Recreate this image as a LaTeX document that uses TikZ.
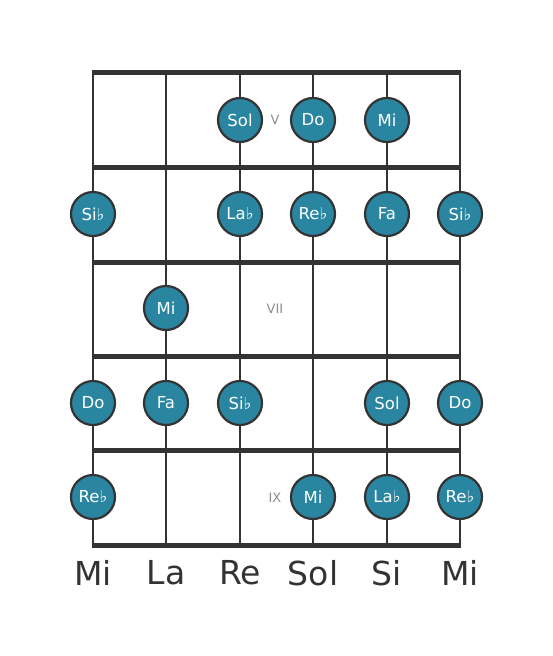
\documentclass[tikz,border=0pt]{standalone}
\usepackage{fontspec}
\setmainfont{DejaVu Sans}
\begin{document}
\begin{tikzpicture}[x=1pt,y=-1pt,
  fret/.style={line width=5pt,draw=black!80},
  string/.style={line width=2.7pt,draw=black!80},
  note/.style={circle,minimum size=44pt,inner sep=0pt,fill=notefill,draw=black!80,line width=2.2pt,text=white,font=\fontsize{16.5}{16.5}\selectfont},
  fretnum/.style={text=black!45,font=\fontsize{13}{13}\selectfont},
  strname/.style={text=black!80,font=\fontsize{33}{33}\selectfont}]
\definecolor{notefill}{HTML}{2A86A0}
\useasboundingbox (0,0) rectangle (553,656);
% strings
\foreach \x/\n in {93/s1,166/s2,240/s3,313/s4,387/s5,460/s6} {
  \coordinate (\n t) at (\x,72);
  \coordinate (\n b) at (\x,545);
  \draw[string] (\n t) -- (\n b);
}
% frets
\foreach \y/\n in {72/f0,167/f1,262/f2,356/f3,450/f4,545/f5} {
  \coordinate (\n l) at (93,\y);
  \coordinate (\n r) at (460,\y);
  \draw[fret] ([xshift=-1.3pt]\n l) -- ([xshift=1.3pt]\n r);
}
% fret numbers
\node[fretnum] (v) at (275,120) {V};
\node[fretnum] (vii) at (275,309) {VII};
\node[fretnum] (ix) at (275,498) {IX};
% notes
\node[note] (n1) at (240,120) {Sol};
\node[note] (n2) at (313,120) {Do};
\node[note] (n3) at (387,120) {Mi};
\node[note] (n4) at (93,214) {Si♭};
\node[note] (n5) at (240,214) {La♭};
\node[note] (n6) at (313,214) {Re♭};
\node[note] (n7) at (387,214) {Fa};
\node[note] (n8) at (460,214) {Si♭};
\node[note] (n9) at (166,308) {Mi};
\node[note] (n10) at (93,403) {Do};
\node[note] (n11) at (166,403) {Fa};
\node[note] (n12) at (240,403) {Si♭};
\node[note] (n13) at (387,403) {Sol};
\node[note] (n14) at (460,403) {Do};
\node[note] (n15) at (93,497) {Re♭};
\node[note] (n16) at (313,497) {Mi};
\node[note] (n17) at (387,497) {La♭};
\node[note] (n18) at (460,497) {Re♭};
% string names
\node[strname] (l1) at (93,573) {Mi};
\node[strname] (l2) at (166,573) {La};
\node[strname] (l3) at (240,573) {Re};
\node[strname] (l4) at (313,573) {Sol};
\node[strname] (l5) at (387,573) {Si};
\node[strname] (l6) at (460,573) {Mi};
\end{tikzpicture}
\end{document}
